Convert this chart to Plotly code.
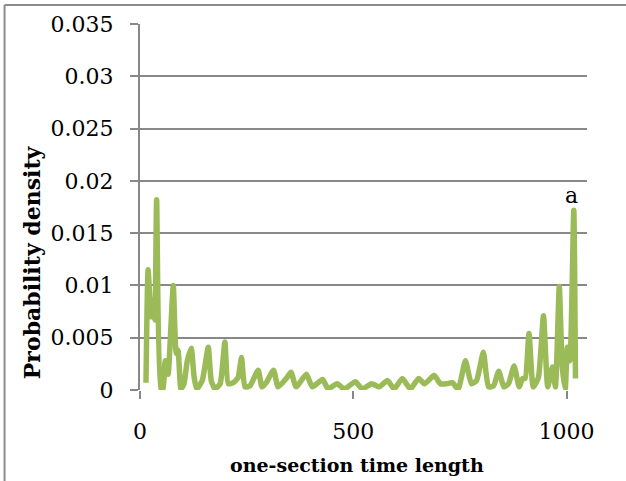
import plotly.graph_objects as go

# Data
time_length = [14, 19, 26, 31, 35, 39, 49, 54, 59, 66, 70, 78, 85, 89, 96, 103, 111, 120, 127, 133,
               146, 160, 167, 176, 188, 199, 207, 219, 230, 238, 246, 258, 277, 286, 296, 313, 324,
               343, 354, 366, 390, 404, 428, 441, 462, 479, 505, 521, 543, 561, 580, 596, 615, 634,
               653, 667, 690, 704, 718, 732, 746, 763, 777, 789, 805, 817, 829, 841, 853, 864, 877,
               889, 897, 903, 912, 922, 934, 946, 956, 967, 974, 983, 990, 997, 1002, 1008, 1017, 1021]
density = [0.0007, 0.0115, 0.0070, 0.0086, 0.0067, 0.0182, 0.0001, 0.0001, 0.0028, 0.0015, 0.0040,
           0.0100, 0.0035, 0.0038, 0.0001, 0.0006, 0.0028, 0.0040, 0.0012, 0.0001,
           0.0009, 0.0041, 0.0009, 0.0001, 0.0006, 0.0046, 0.0006, 0.0007, 0.0012, 0.0031, 0.0003,
           0.0004, 0.0019, 0.0003, 0.0007, 0.0019, 0.0003, 0.0011, 0.0017, 0.0003, 0.0015, 0.0003,
           0.0010, 0.0001, 0.0006, 0.0001, 0.0008, 0.0001, 0.0006, 0.0003, 0.0009, 0.0001, 0.0011,
           0.0001, 0.0011, 0.0006, 0.0014, 0.0006, 0.0006, 0.0007, 0.0001, 0.0028, 0.0006, 0.0009,
           0.0036, 0.0003, 0.0004, 0.0018, 0.0003, 0.0006, 0.0023, 0.0003, 0.0011, 0.0011, 0.0054,
           0.0003, 0.0012, 0.0071, 0.0003, 0.0022, 0.0003, 0.0099, 0.0022, 0.0001, 0.0041, 0.0028,
           0.0172, 0.0011]

y_ticks = [0, 0.005, 0.01, 0.015, 0.02, 0.025, 0.03, 0.035]
y_tick_labels = ["0", "0.005", "0.01", "0.015", "0.02", "0.025", "0.03", "0.035"]
x_ticks = [0, 500, 1000]
x_tick_labels = ["0", "500", "1000"]

SERIF = "DejaVu Serif"
GRID = "#888888"

fig = go.Figure()
fig.add_trace(go.Scatter(
    x=time_length, y=density, mode="lines",
    line=dict(color="#9BBB59", width=5.5, shape="spline", smoothing=0.5),
    showlegend=False, hoverinfo="skip",
))

fig.update_layout(
    width=626, height=481,
    margin=dict(l=140, r=39, t=24, b=91, autoexpand=False),
    paper_bgcolor="white", plot_bgcolor="white",
    font=dict(family=SERIF, color="black"),
    xaxis=dict(
        range=[0, 1048], tickvals=x_ticks, ticktext=x_tick_labels,
        showgrid=False, zeroline=False, showline=False, automargin=False,
        ticks="outside", ticklen=8, tickwidth=2, tickcolor=GRID,
        tickfont=dict(size=22, family=SERIF), ticklabelstandoff=14,
    ),
    yaxis=dict(
        range=[0, 0.035], tickvals=y_ticks, ticktext=y_tick_labels,
        showgrid=True, gridcolor=GRID, gridwidth=2, automargin=False,
        zeroline=False, showline=True, linecolor=GRID, linewidth=2,
        ticks="outside", ticklen=8, tickwidth=2, tickcolor=GRID,
        tickfont=dict(size=22, family=SERIF), ticklabelstandoff=12,
    ),
    annotations=[
        dict(text="<b>Probability density</b>", xref="paper", yref="paper",
             x=-0.241, y=0.35, textangle=-90, showarrow=False,
             font=dict(size=22, family=SERIF), xanchor="center", yanchor="middle"),
        dict(text="<b>one-section time length</b>", xref="paper", yref="paper",
             x=0.4855, y=-0.205, showarrow=False,
             font=dict(size=19, family=SERIF), xanchor="center", yanchor="middle"),
        dict(text="a", xref="x", yref="y", x=1012, y=0.0186, showarrow=False,
             font=dict(size=22, family=SERIF), xanchor="center", yanchor="middle"),
    ],
    shapes=[
        dict(type="line", xref="paper", yref="paper",
             x0=-0.303, x1=1.2, y0=1.052, y1=1.052,
             line=dict(color="#8c8c8c", width=2), layer="above"),
        dict(type="line", xref="paper", yref="paper",
             x0=-0.303, x1=-0.303, y0=-0.5, y1=1.052,
             line=dict(color="#8c8c8c", width=2), layer="above"),
    ],
)

fig.write_html("out.html", config={"displayModeBar": False},
               post_script="document.body.style.margin='0';")
